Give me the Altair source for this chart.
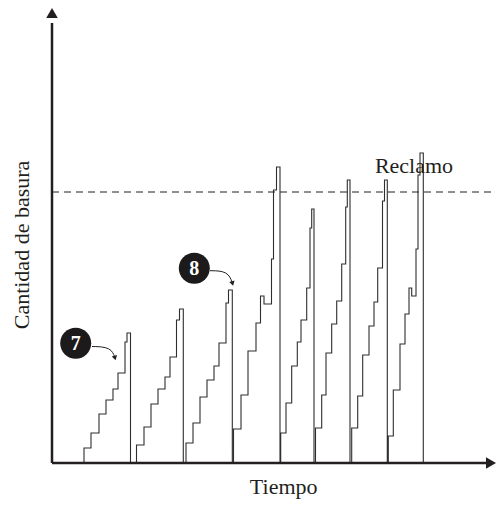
import altair as alt
import pandas as pd

# ---- data (time units, amount units) ----
# step start times and garbage levels for each collection cycle
cycle_times = [
    [32, 39, 47, 54, 61, 66, 73, 75],
    [84.5, 92, 99, 106, 113, 118, 124.5, 127.5],
    [134, 141, 148, 155, 162, 167, 174, 176.5],
    [181.5, 189, 196, 204, 208.5, 212, 219.5, 221.5, 224.5],
    [228.7, 234, 239.7, 245.3, 249, 254.7, 258, 259.7],
    [263.5, 269.7, 274, 279.7, 284.7, 289.7, 293.7, 295.3],
    [299.7, 305.7, 310.7, 317, 322, 325.7, 330.5, 332.5],
    [336.3, 341.3, 348, 353, 357, 359.7, 364, 366, 368],
]
cycle_levels = [
    [15, 30, 49, 63, 74, 90, 121, 130],
    [18, 36, 59, 74, 86, 106, 143, 154],
    [20, 40, 66, 83, 97, 120, 160, 173],
    [34, 68, 112, 140, 167, 159, 204, 273, 296],
    [30, 60, 97, 121, 143, 175, 235, 254],
    [35, 68, 110, 139, 162, 199, 256, 283],
    [35, 67, 108, 137, 161, 195, 262, 283],
    [27, 73, 119, 149, 175, 167, 214, 288, 310],
]
collection_times = [78.5, 131.3, 180.3, 228, 262, 298, 335.3, 371.3]
reclamo_level = 271

badge_labels = ["7", "8"]
badge_t = [23.7, 142.3]
badge_a = [119.7, 194.7]
arrow_t = [[40, 59, 63], [158, 176, 180.5]]
arrow_a = [[116.5, 116, 105], [192.3, 192, 179.5]]

W, H = 444, 449
INK = "#231f20"
SERIF = "Liberation Serif"

# ---- build the staircase path ----
rows = []
i = 0
for ts, ls, d in zip(cycle_times, cycle_levels, collection_times):
    rows.append({"t": ts[0], "a": 0, "i": i}); i += 1
    for k, (t, l) in enumerate(zip(ts, ls)):
        nt = ts[k + 1] if k + 1 < len(ts) else d
        rows.append({"t": t, "a": l, "i": i}); i += 1
        rows.append({"t": nt, "a": l, "i": i}); i += 1
    rows.append({"t": d, "a": 0, "i": i}); i += 1
steps = pd.DataFrame(rows)

xs = alt.Scale(domain=[0, W], nice=False, zero=False)
ys = alt.Scale(domain=[0, H], nice=False, zero=False)


def X(f):
    return alt.X(f, type="quantitative", scale=xs, axis=None)


def Y(f):
    return alt.Y(f, type="quantitative", scale=ys, axis=None)


stair = alt.Chart(steps).mark_line(color="#2e2e2e", strokeWidth=1.1).encode(
    x=X("t"), y=Y("a"), order="i:Q"
)

axes_df = pd.DataFrame({"t": [0, 0], "t2": [437, 0], "a": [0, 0], "a2": [0, 440]})
axes = alt.Chart(axes_df).mark_rule(color=INK, strokeWidth=2.5).encode(
    x=X("t"), x2="t2:Q", y=Y("a"), y2="a2:Q"
)

up_head = alt.Chart(pd.DataFrame({"t": [0], "a": [450]})).mark_point(
    shape="triangle-up", filled=True, size=134, color=INK, opacity=1
).encode(x=X("t"), y=Y("a"))
right_head = alt.Chart(pd.DataFrame({"t": [439], "a": [0]})).mark_point(
    shape="triangle-right", filled=True, size=134, color=INK, opacity=1
).encode(x=X("t"), y=Y("a"))

dash = alt.Chart(pd.DataFrame({"t": [0], "t2": [W], "a": [reclamo_level]})).mark_rule(
    color=INK, strokeWidth=1, strokeDash=[7, 5]
).encode(x=X("t"), x2="t2:Q", y=Y("a"))

reclamo = alt.Chart(pd.DataFrame({"t": [362], "a": [290.3], "s": ["Reclamo"]})).mark_text(
    font=SERIF, fontSize=22, color=INK, align="center", baseline="alphabetic"
).encode(x=X("t"), y=Y("a"), text="s:N")

badges_df = pd.DataFrame({"t": badge_t, "a": badge_a, "s": badge_labels})
badges = alt.Chart(badges_df).mark_point(
    shape="circle", filled=True, size=960, color="#1c1a1a", opacity=1
).encode(x=X("t"), y=Y("a"))
badge_txt = alt.Chart(badges_df).mark_text(
    font=SERIF, fontSize=20, fontWeight="bold", color="white", baseline="middle", dy=1
).encode(x=X("t"), y=Y("a"), text="s:N")

arr_rows = []
for k, (tt, aa) in enumerate(zip(arrow_t, arrow_a)):
    for j, (t, a) in enumerate(zip(tt, aa)):
        arr_rows.append({"t": t, "a": a, "k": k, "j": j})
arr_df = pd.DataFrame(arr_rows)
arrows = alt.Chart(arr_df).mark_line(interpolate="basis", color=INK, strokeWidth=1).encode(
    x=X("t"), y=Y("a"), detail="k:N", order="j:Q"
)
heads_df = pd.DataFrame({"t": [tt[-1] for tt in arrow_t], "a": [aa[-1] for aa in arrow_a]})
heads = alt.Chart(heads_df).mark_point(
    shape="triangle-up", filled=True, size=30, angle=165, color=INK, opacity=1
).encode(x=X("t"), y=Y("a"))

xtitle = alt.Chart(pd.DataFrame({"s": ["Tiempo"]})).mark_text(
    font=SERIF, fontSize=22, color=INK, align="center", baseline="alphabetic"
).encode(x=alt.value(231.7), y=alt.value(480), text="s:N")
ytitle = alt.Chart(pd.DataFrame({"s": ["Cantidad de basura"]})).mark_text(
    font=SERIF, fontSize=22, color=INK, align="center", baseline="middle", angle=270
).encode(x=alt.value(-30), y=alt.value(231), text="s:N")

chart = alt.layer(
    dash, stair, axes, up_head, right_head, reclamo, arrows, heads, badges, badge_txt, xtitle, ytitle
).properties(
    width=W, height=H,
    padding={"left": 44, "top": 6, "right": 0, "bottom": 37},
    autosize=alt.AutoSizeParams(type="none"),
    background="white",
).configure_view(strokeWidth=0)

chart.save("out.html", embed_options={"renderer": "svg", "actions": False})
